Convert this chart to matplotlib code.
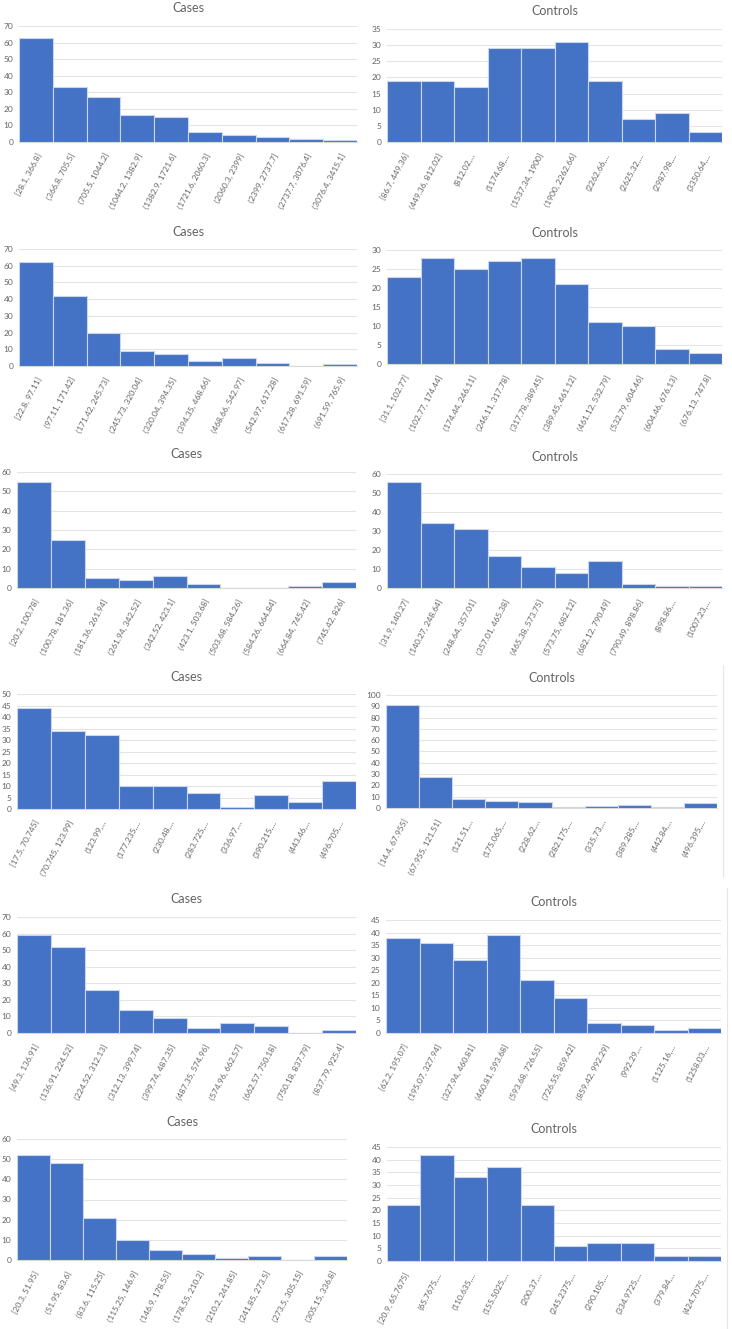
import matplotlib
matplotlib.use("Agg")
import matplotlib.pyplot as plt

plt.rcParams['font.family'] = ['Lato', 'DejaVu Sans']

# ---------------- data ----------------
r1_cases_labels = ["[28.1, 366.8]", "(366.8, 705.5]", "(705.5, 1044.2]", "(1044.2, 1382.9]",
                   "(1382.9, 1721.6]", "(1721.6, 2060.3]", "(2060.3, 2399]", "(2399, 2737.7]",
                   "(2737.7, 3076.4]", "(3076.4, 3415.1]"]
r1_cases_counts = [63, 33, 27, 16, 15, 6, 4, 3, 2, 1]

r1_ctrl_labels = ["[86.7, 449.36]", "(449.36, 812.02]", "(812.02,...", "(1174.68,...",
                  "(1537.34, 1900]", "(1900, 2262.66]", "(2262.66,...", "(2625.32,...",
                  "(2987.98,...", "(3350.64,..."]
r1_ctrl_counts = [19, 19, 17, 29, 29, 31, 19, 7, 9, 3]

r2_cases_labels = ["[22.8, 97.11]", "(97.11, 171.42]", "(171.42, 245.73]", "(245.73, 320.04]",
                   "(320.04, 394.35]", "(394.35, 468.66]", "(468.66, 542.97]", "(542.97, 617.28]",
                   "(617.28, 691.59]", "(691.59, 765.9]"]
r2_cases_counts = [62, 42, 20, 9, 7, 3, 5, 2, 0, 1]

r2_ctrl_labels = ["[31.1, 102.77]", "(102.77, 174.44]", "(174.44, 246.11]", "(246.11, 317.78]",
                  "(317.78, 389.45]", "(389.45, 461.12]", "(461.12, 532.79]", "(532.79, 604.46]",
                  "(604.46, 676.13]", "(676.13, 747.8]"]
r2_ctrl_counts = [23, 28, 25, 27, 28, 21, 11, 10, 4, 3]

r3_cases_labels = ["[20.2, 100.78]", "(100.78, 181.36]", "(181.36, 261.94]", "(261.94, 342.52]",
                   "(342.52, 423.1]", "(423.1, 503.68]", "(503.68, 584.26]", "(584.26, 664.84]",
                   "(664.84, 745.42]", "(745.42, 826]"]
r3_cases_counts = [55, 25, 5, 4, 6, 2, 0, 0, 1, 3]

r3_ctrl_labels = ["[31.9, 140.27]", "(140.27, 248.64]", "(248.64, 357.01]", "(357.01, 465.38]",
                  "(465.38, 573.75]", "(573.75, 682.12]", "(682.12, 790.49]", "(790.49, 898.86]",
                  "(898.86,...", "(1007.23,..."]
r3_ctrl_counts = [56, 34, 31, 17, 11, 8, 14, 2, 1, 1]

r4_cases_labels = ["[17.5, 70.745]", "(70.745, 123.99]", "(123.99,...", "(177.235,...",
                   "(230.48,...", "(283.725,...", "(336.97,...", "(390.215,...",
                   "(443.46,...", "(496.705,..."]
r4_cases_counts = [44, 34, 32, 10, 10, 7, 1, 6, 3, 12]

r4_ctrl_labels = ["[14.4, 67.955]", "(67.955, 121.51]", "(121.51,...", "(175.065,...",
                  "(228.62,...", "(282.175,...", "(335.73,...", "(389.285,...",
                  "(442.84,...", "(496.395,..."]
r4_ctrl_counts = [91, 27, 8, 6, 5, 1, 2, 3, 1, 4]

r5_cases_labels = ["[49.3, 136.91]", "(136.91, 224.52]", "(224.52, 312.13]", "(312.13, 399.74]",
                   "(399.74, 487.35]", "(487.35, 574.96]", "(574.96, 662.57]", "(662.57, 750.18]",
                   "(750.18, 837.79]", "(837.79, 925.4]"]
r5_cases_counts = [59, 52, 26, 14, 9, 3, 6, 4, 0, 2]

r5_ctrl_labels = ["[62.2, 195.07]", "(195.07, 327.94]", "(327.94, 460.81]", "(460.81, 593.68]",
                  "(593.68, 726.55]", "(726.55, 859.42]", "(859.42, 992.29]", "(992.29,...",
                  "(1125.16,...", "(1258.03,..."]
r5_ctrl_counts = [38, 36, 29, 39, 21, 14, 4, 3, 1, 2]

r6_cases_labels = ["[20.3, 51.95]", "(51.95, 83.6]", "(83.6, 115.25]", "(115.25, 146.9]",
                   "(146.9, 178.55]", "(178.55, 210.2]", "(210.2, 241.85]", "(241.85, 273.5]",
                   "(273.5, 305.15]", "(305.15, 336.8]"]
r6_cases_counts = [52, 48, 21, 10, 5, 3, 1, 2, 0, 2]

r6_ctrl_labels = ["[20.9, 65.7675]", "(65.7675,...", "(110.635,...", "(155.5025,...",
                  "(200.37,...", "(245.2375,...", "(290.105,...", "(334.9725,...",
                  "(379.84,...", "(424.7075,..."]
r6_ctrl_counts = [22, 42, 33, 37, 22, 6, 7, 7, 2, 2]

titles = ["Cases", "Controls"] * 6
y_max = [70, 35, 70, 30, 60, 60, 50, 100, 70, 45, 60, 45]
y_step = [10, 5, 10, 5, 10, 10, 5, 10, 10, 5, 10, 5]

panels_data = [
    (r1_cases_labels, r1_cases_counts), (r1_ctrl_labels, r1_ctrl_counts),
    (r2_cases_labels, r2_cases_counts), (r2_ctrl_labels, r2_ctrl_counts),
    (r3_cases_labels, r3_cases_counts), (r3_ctrl_labels, r3_ctrl_counts),
    (r4_cases_labels, r4_cases_counts), (r4_ctrl_labels, r4_ctrl_counts),
    (r5_cases_labels, r5_cases_counts), (r5_ctrl_labels, r5_ctrl_counts),
    (r6_cases_labels, r6_cases_counts), (r6_ctrl_labels, r6_ctrl_counts),
]

# ---------------- layout (pixels) ----------------
W, H = 732, 1329
boxes = [  # left, top, right, bottom
    (19, 26, 357, 142), (387, 29, 722, 142),
    (19, 249, 357, 366), (387, 250, 722, 364),
    (17, 472, 356, 588), (387, 474, 722, 588),
    (17, 694, 356, 809), (386, 695, 717, 808),
    (17, 917, 356, 1033), (386, 920, 721, 1033),
    (17, 1139, 347, 1260), (387, 1147, 721, 1261),
]
title_y = [8, 11, 232, 233, 454, 457, 677, 678, 899, 902, 1122, 1129]

BAR = "#4472C4"
GRID = "#E4E4E4"
TXT = "#636363"

fig = plt.figure(figsize=(W / 100, H / 100), dpi=100)
fig.patch.set_facecolor("white")

for i, ((labels, counts), (l, t, r, b)) in enumerate(zip(panels_data, boxes)):
    ax = fig.add_axes([l / W, 1 - b / H, (r - l) / W, (b - t) / H])
    x = list(range(len(counts)))
    ax.bar(x, counts, width=1.0, color=BAR, edgecolor="#C9D6EE", linewidth=0.8, zorder=3)
    ax.set_xlim(-0.5, len(counts) - 0.5)
    ax.set_ylim(0, y_max[i])
    ax.set_yticks(list(range(0, y_max[i] + 1, y_step[i])))
    ax.yaxis.grid(True, color=GRID, linewidth=0.8, zorder=0)
    ax.set_axisbelow(True)
    for s in ["top", "right", "left"]:
        ax.spines[s].set_visible(False)
    ax.spines["bottom"].set_color("#D9D9D9")
    ax.spines["bottom"].set_linewidth(0.8)
    ax.tick_params(axis="both", length=0, colors=TXT, labelsize=6)
    ax.tick_params(axis="y", pad=4)
    ax.tick_params(axis="x", pad=7)
    ax.set_xticks(x)
    ax.set_xticklabels(labels, rotation=62, ha="right", rotation_mode="anchor")
    cx = (l + r) / 2
    fig.text(cx / W, 1 - title_y[i] / H, titles[i], ha="center", va="center",
             fontsize=9, color=TXT)

# faint chart borders on the right
fig.add_artist(plt.Line2D([723 / W, 723 / W], [1 - 665 / H, 1 - 877 / H], color="#E6E6E6", lw=0.8))
fig.add_artist(plt.Line2D([727 / W, 727 / W], [1 - 888 / H, 0], color="#E6E6E6", lw=0.8))

fig.savefig("out.png", dpi=100, facecolor="white")
